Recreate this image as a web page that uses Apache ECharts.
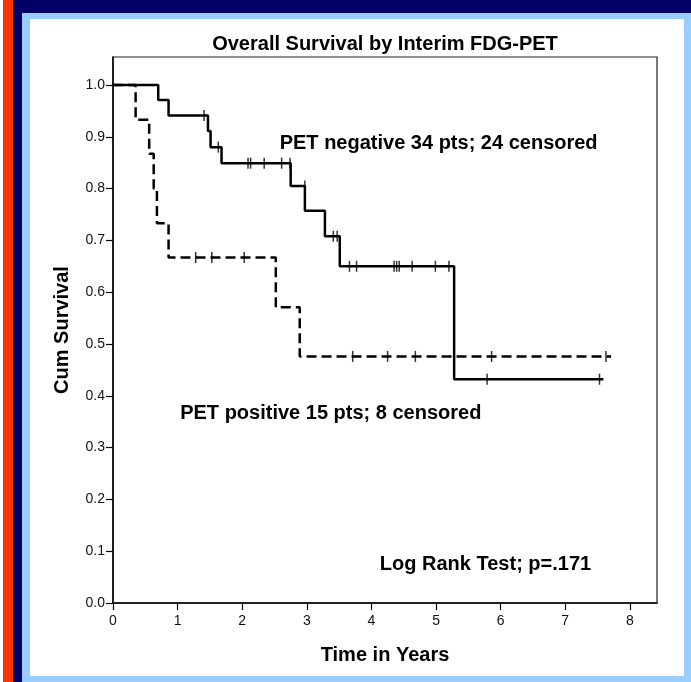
<!DOCTYPE html>
<html>
<head>
<meta charset="utf-8">
<script src="https://cdn.jsdelivr.net/npm/echarts@6/dist/echarts.min.js"></script>
<style>
    html, body { margin: 0; padding: 0; width: 691px; height: 682px; overflow: hidden; background: #fff; }
    .band { position: absolute; }
    #chart { position: absolute; left: 0; top: 0; width: 691px; height: 682px; }
</style>
</head>
<body>
<!-- slide frame -->
<div class="band" style="left:3px;top:0;width:10px;height:682px;background:#ff3300;"></div>
<div class="band" style="left:13px;top:0;width:678px;height:13px;background:#000066;"></div>
<div class="band" style="left:13px;top:0;width:9px;height:682px;background:#000066;"></div>
<div class="band" style="left:22px;top:13px;width:669px;height:669px;background:#99ccff;"></div>
<div class="band" style="left:30px;top:19px;width:654px;height:657px;background:#fff;"></div>
<div id="chart"></div>
<script>
// PET negative (solid) - step points: time in years, cum survival
var negTimes = [0, 0.70, 0.86, 1.47, 1.51, 1.68, 2.75, 2.97, 3.28, 3.51, 5.28, 7.59];
var negSurv = [1, 0.971, 0.941, 0.911, 0.880, 0.849, 0.805, 0.757, 0.708, 0.650, 0.432, 0.432];
var negCensorTimes = [1.41, 1.63, 2.09, 2.13, 2.34, 2.61, 2.74, 2.97, 3.41, 3.47, 3.66, 3.77, 4.35, 4.39, 4.43, 4.63, 4.99, 5.20, 5.79, 7.53];
var negCensorSurv = [0.941, 0.880, 0.849, 0.849, 0.849, 0.849, 0.849, 0.805, 0.708, 0.708, 0.650, 0.650, 0.650, 0.650, 0.650, 0.650, 0.650, 0.650, 0.432, 0.432];

// PET positive (dashed)
var posTimes = [0, 0.35, 0.56, 0.63, 0.68, 0.86, 2.52, 2.89, 7.71];
var posSurv = [1, 0.933, 0.867, 0.800, 0.733, 0.667, 0.571, 0.476, 0.476];
var posCensorTimes = [1.28, 1.53, 2.03, 3.71, 4.25, 4.68, 5.86, 7.63];
var posCensorSurv = [0.667, 0.667, 0.667, 0.476, 0.476, 0.476, 0.476, 0.476];

var xTicks = [0, 1, 2, 3, 4, 5, 6, 7, 8];
var yTicks = [0, 0.1, 0.2, 0.3, 0.4, 0.5, 0.6, 0.7, 0.8, 0.9, 1.0];

function pairs(xs, ys) {
    return xs.map(function (x, i) { return [x, ys[i]]; });
}

var font = '"Liberation Sans", Arial, sans-serif';
var chart = echarts.init(document.getElementById('chart'));

var censorStyle = {
    type: 'scatter',
    symbol: 'rect',
    symbolSize: [1.5, 11],
    itemStyle: { color: '#000' },
    z: 5
};

chart.setOption({
    animation: false,
    grid: {
        left: 113, top: 57, right: 34, bottom: 79,
        show: true, borderColor: '#222', borderWidth: 1.2
    },
    xAxis: {
        type: 'value', min: 0, max: 8.42,
        splitLine: { show: false },
        axisLine: { lineStyle: { color: '#000', width: 1.5 } },
        axisTick: { customValues: xTicks, length: 7, lineStyle: { color: '#000', width: 1.2 } },
        axisLabel: { customValues: xTicks, color: '#111', fontSize: 14, fontFamily: font, margin: 11 },
        name: 'Time in Years', nameLocation: 'middle', nameGap: 42,
        nameTextStyle: { color: '#000', fontSize: 20, fontWeight: 'bold', fontFamily: font }
    },
    yAxis: {
        type: 'value', min: 0, max: 1.054,
        splitLine: { show: false },
        axisLine: { lineStyle: { color: '#000', width: 1.5 } },
        axisTick: { customValues: yTicks, length: 7, lineStyle: { color: '#000', width: 1.2 } },
        axisLabel: {
            customValues: yTicks, color: '#111', fontSize: 14, fontFamily: font, margin: 8,
            formatter: function (v) { return v.toFixed(1); }
        },
        name: 'Cum Survival', nameLocation: 'middle', nameGap: 41, nameRotate: 90,
        nameTextStyle: { color: '#000', fontSize: 20, fontWeight: 'bold', fontFamily: font }
    },
    series: [
        {
            name: 'PET positive', type: 'line', step: 'end', symbol: 'none',
            data: pairs(posTimes, posSurv),
            lineStyle: { color: '#000', width: 2.5, type: [10, 5] }
        },
        {
            name: 'PET negative', type: 'line', step: 'end', symbol: 'none',
            data: pairs(negTimes, negSurv),
            lineStyle: { color: '#000', width: 2.5 }
        },
        Object.assign({ name: 'neg censored', data: pairs(negCensorTimes, negCensorSurv) }, censorStyle),
        Object.assign({ name: 'pos censored', data: pairs(posCensorTimes, posCensorSurv) }, censorStyle)
    ]
});

// text annotations placed in data coordinates
var textStyle = { fill: '#000', fontSize: 20, fontWeight: 'bold', fontFamily: font, verticalAlign: 'middle' };
function note(txt, at) {
    var p = chart.convertToPixel({ gridIndex: 0 }, at);
    return { type: 'text', x: p[0], y: p[1], style: Object.assign({ text: txt }, textStyle) };
}
chart.setOption({
    graphic: [
        { type: 'text', x: 385, y: 44, style: Object.assign({ text: 'Overall Survival by Interim FDG-PET', align: 'center' }, textStyle) },
        note('PET negative 34 pts; 24 censored', [2.58, 0.888]),
        note('PET positive 15 pts; 8 censored', [1.04, 0.366]),
        note('Log Rank Test; p=.171', [4.13, 0.075])
    ]
});
</script>
</body>
</html>
